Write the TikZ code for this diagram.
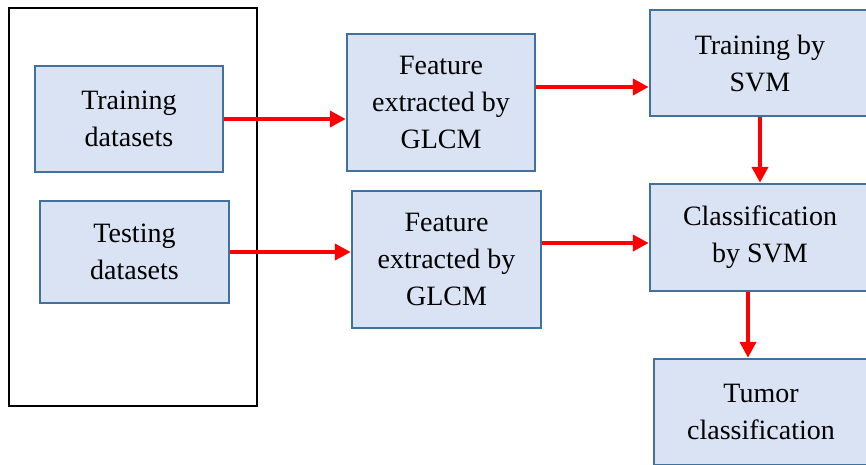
\documentclass[tikz,border=0pt]{standalone}
\usepackage{fontspec}
\setmainfont{Liberation Serif}
\usetikzlibrary{arrows.meta,calc}
\definecolor{boxfill}{HTML}{DAE3F3}
\definecolor{boxline}{HTML}{41719C}
\begin{document}
\begin{tikzpicture}[x=1pt,y=-1pt,
  blk/.style={draw=boxline,fill=boxfill,line width=2.5pt,align=center,inner sep=0pt,
    font=\fontsize{28}{37}\selectfont},
  arr/.style={draw=red,line width=4pt,-{Triangle[length=16pt,width=16pt]}}]
\useasboundingbox (0,0) rectangle (866,464);
\clip (0,0) rectangle (866,464);
\node[draw=black,line width=2.5pt,minimum width=248pt,minimum height=398pt,inner sep=0pt] (outer) at (133,207) {};
\node[blk,minimum width=188pt,minimum height=106pt] (train) at (129,119) {Training\\datasets};
\node[blk,minimum width=189pt,minimum height=102pt] (test) at (134.5,252) {Testing\\datasets};
\node[blk,minimum width=188pt,minimum height=137pt] (f1) at (441,102.5) {Feature\\extracted by\\GLCM};
\node[blk,minimum width=189pt,minimum height=137pt] (f2) at (446.5,259.5) {Feature\\extracted by\\GLCM};
\node[blk,minimum width=220pt,minimum height=106pt] (svm) at (760,63) {Training by\\SVM};
\node[blk,minimum width=220pt,minimum height=107pt] (cls) at (760,237.5) {Classification\\by SVM};
\node[blk,minimum width=214pt,minimum height=106pt] (tum) at (761,412) {Tumor\\classification};
\draw[arr] (train.east) -- (train.east -| f1.west);
\draw[arr] (test.east) -- (test.east -| f2.west);
\draw[arr] ([yshift=15.5pt]f1.east) -- ([yshift=15.5pt]f1.east -| svm.west);
\draw[arr] ([yshift=16.5pt]f2.east) -- ([yshift=16.5pt]f2.east -| cls.west);
\draw[arr] (svm.south) -- (cls.north);
\draw[arr] ([xshift=-12pt]cls.south) -- ([xshift=-12pt]cls.south |- tum.north);
\end{tikzpicture}
\end{document}
